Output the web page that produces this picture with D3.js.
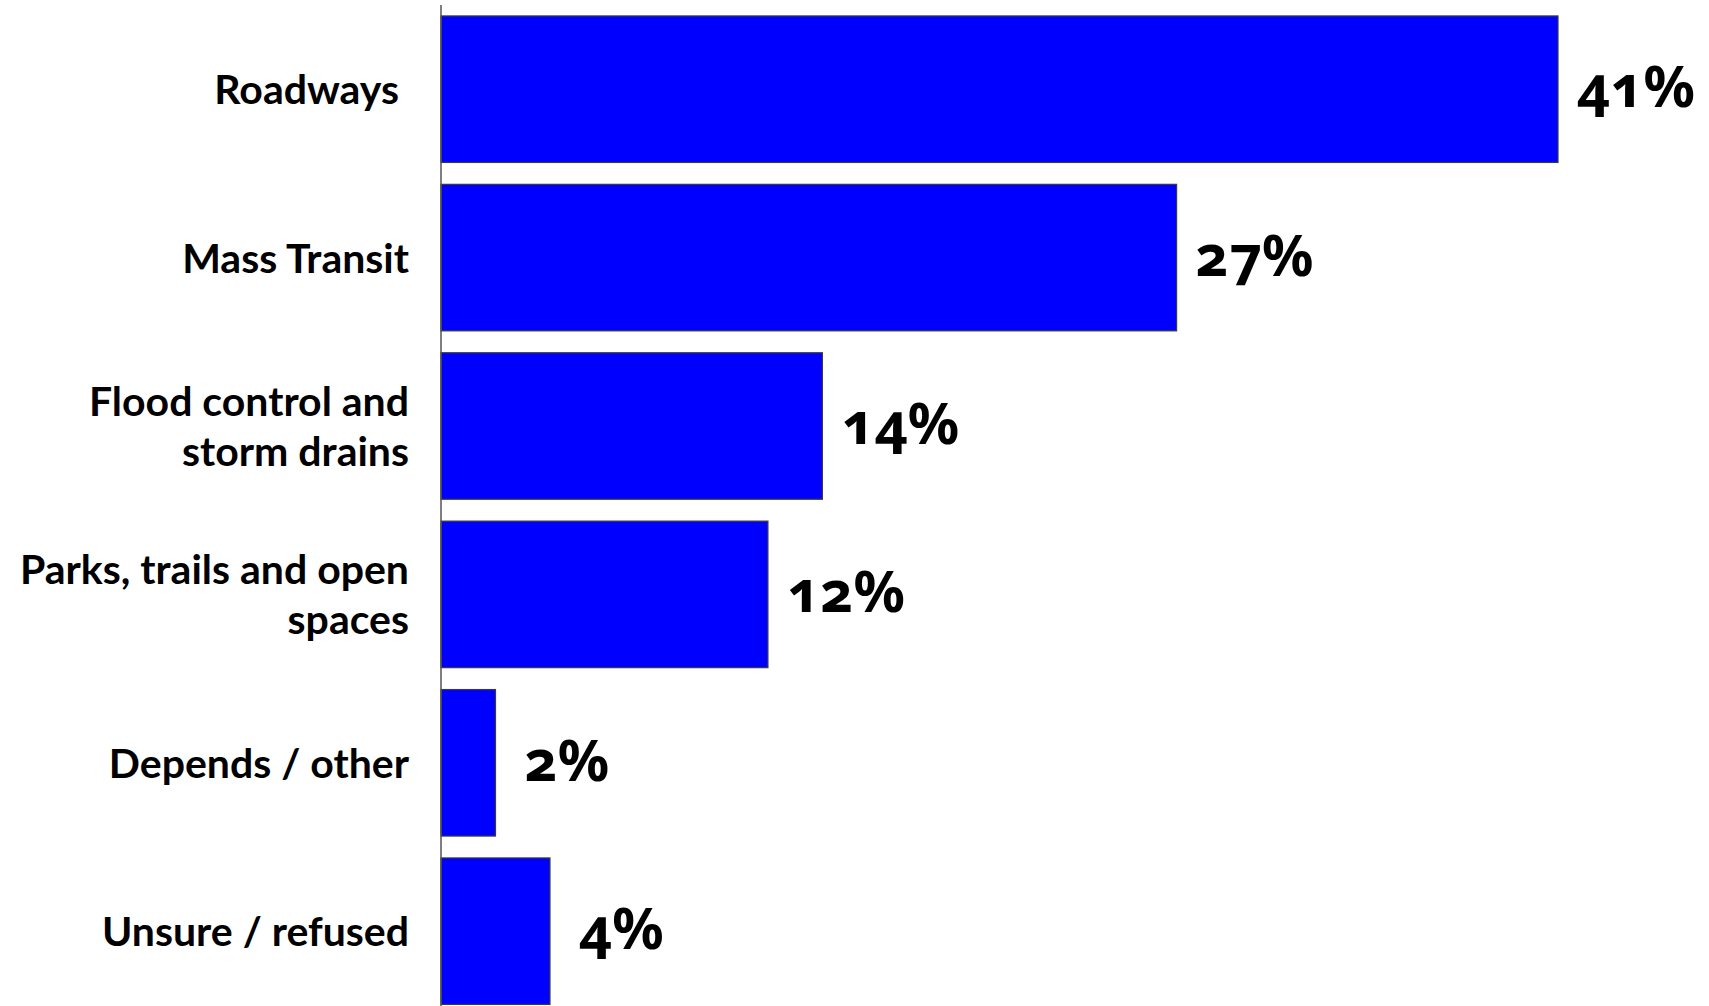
<!DOCTYPE html>
<html>
<head>
<meta charset="utf-8">
<script src="https://cdn.jsdelivr.net/npm/d3@7"></script>
<style>
  html, body { margin: 0; padding: 0; background: #fff; }
  svg { display: block; }
  .cat { font-family: Lato, "Open Sans", sans-serif; font-weight: 700; font-size: 41px; fill: #000; white-space: pre; }
  .val { font-family: "Noto Sans", Lato, sans-serif; font-weight: 700; font-size: 57px; fill: #000; font-variant-numeric: oldstyle-nums; font-feature-settings: "onum" 1; }
</style>
</head>
<body>
<svg id="chart" width="1709" height="1006"></svg>
<script>
const categories = ["Roadways", "Mass Transit", "Flood control and storm drains", "Parks, trails and open spaces", "Depends / other", "Unsure / refused"];
const labelLines = [["Roadways "], ["Mass Transit"], ["Flood control and", "storm drains"], ["Parks, trails and open", "spaces"], ["Depends / other"], ["Unsure / refused"]];
const values = [41, 27, 14, 12, 2, 4];
const valueLabels = ["41%", "27%", "14%", "12%", "2%", "4%"];

const W = 1709, H = 1006;
const svg = d3.select("#chart");
const x0 = 441;
const x = d3.scaleLinear().domain([0, 41]).range([x0, 1558]);
const y = d3.scaleBand().domain(categories).range([5, 1015.4]).paddingInner(0.13).paddingOuter(0.065);

const data = categories.map((c, i) => ({ c, v: values[i], lab: valueLabels[i], lines: labelLines[i] }));

svg.append("g").selectAll("rect").data(data).join("rect")
  .attr("x", x(0))
  .attr("y", d => y(d.c))
  .attr("width", d => x(d.v) - x(0))
  .attr("height", y.bandwidth())
  .attr("fill", "#0000ff")
  .attr("stroke", "#3a3a3a")
  .attr("stroke-width", 1.2);

svg.append("line")
  .attr("x1", x0).attr("x2", x0)
  .attr("y1", 5).attr("y2", H)
  .attr("stroke", "#555").attr("stroke-width", 1.5);

svg.append("g").selectAll("text").data(data).join("text")
  .attr("class", "val")
  .attr("x", d => x(d.v) + (d.v < 10 ? 29 : 19))
  .attr("y", d => y(d.c) + y.bandwidth() / 2 + 18)
  .text(d => d.lab);

const lineH = 50;
const catG = svg.append("g").selectAll("text").data(data).join("text")
  .attr("class", "cat")
  .attr("text-anchor", "end")
  .attr("x", 409)
  .attr("y", d => y(d.c) + y.bandwidth() / 2 + 15 - (d.lines.length - 1) * lineH / 2);
catG.selectAll("tspan").data(d => d.lines).join("tspan")
  .attr("x", 409)
  .attr("dy", (l, i) => i === 0 ? 0 : lineH)
  .text(l => l);
</script>
</body>
</html>
